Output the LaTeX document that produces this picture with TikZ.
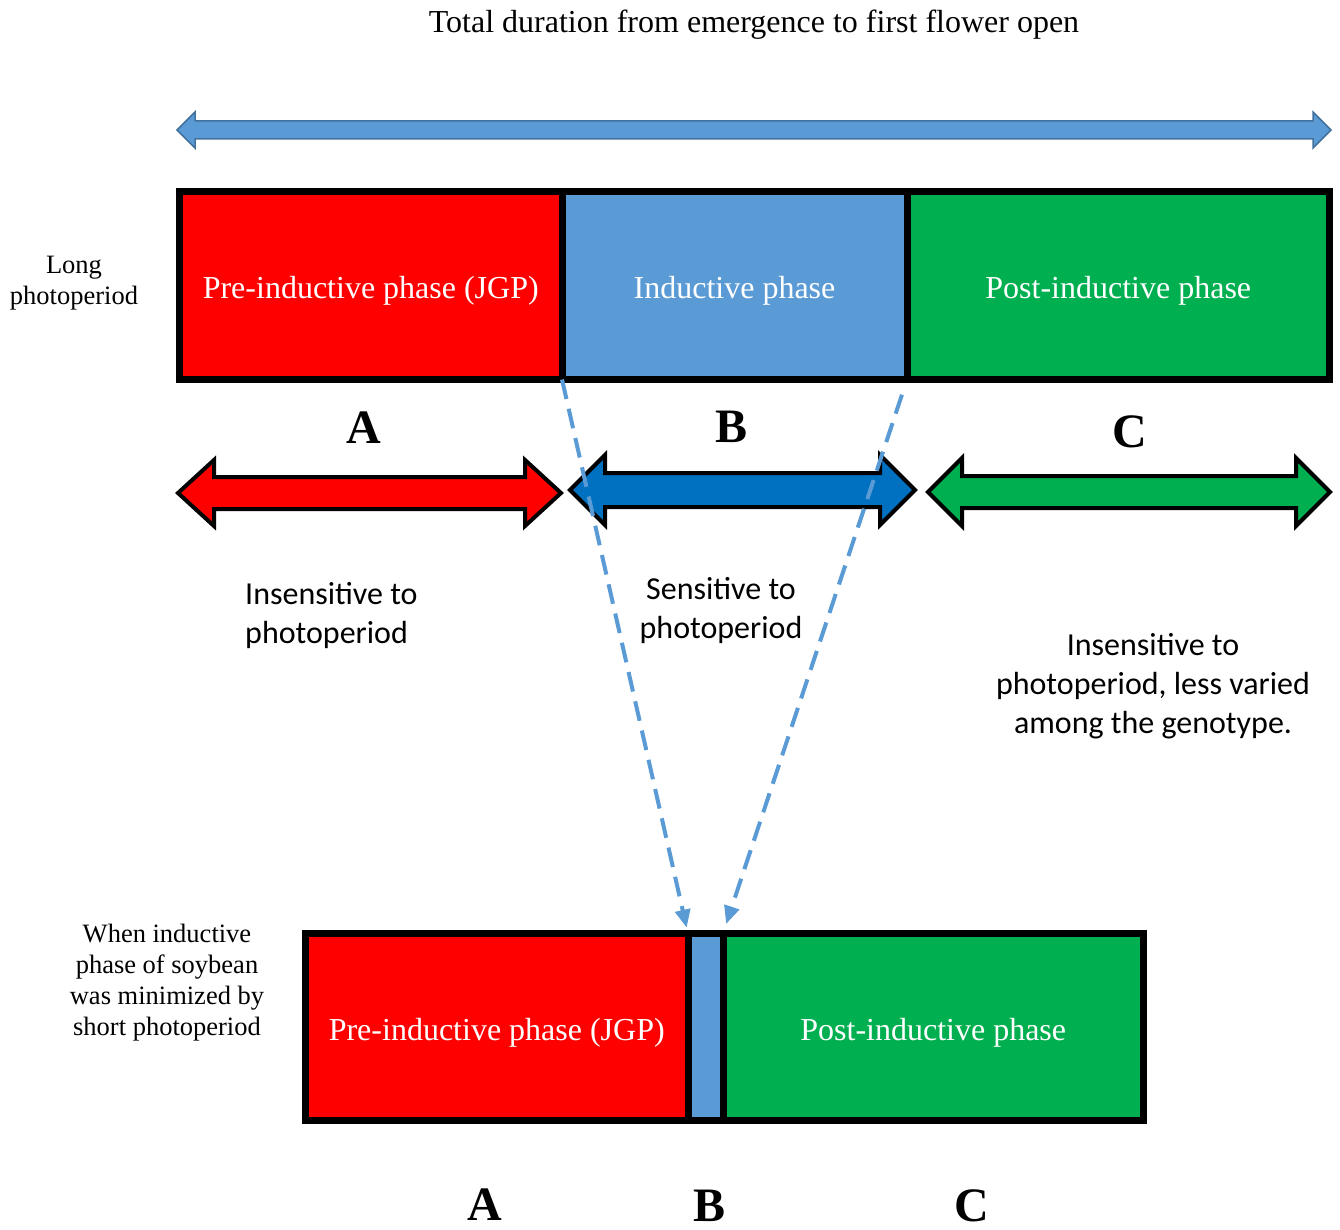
\documentclass[tikz,border=0pt]{standalone}
\usepackage{fontspec}
\setmainfont{Liberation Serif}
\newfontfamily\calibri{Carlito}
\usepackage{tikz}
\usetikzlibrary{arrows.meta,positioning}
\definecolor{phred}{HTML}{FF0000}
\definecolor{phblue}{HTML}{5B9BD5}
\definecolor{phgreen}{HTML}{00B050}
\definecolor{arblue}{HTML}{0070C0}
\definecolor{edgeblue}{HTML}{41719C}
% two-headed block arrow: style, left tip, right tip, y, head length, head half-width, shaft half-width
\newcommand{\dblarrow}[7][]{%
  \filldraw[#1] (#2,#4) -- ({#2+#5},{#4-#6}) -- ({#2+#5},{#4-#7}) -- ({#3-#5},{#4-#7})
    -- ({#3-#5},{#4-#6}) -- (#3,#4) -- ({#3-#5},{#4+#6}) -- ({#3-#5},{#4+#7})
    -- ({#2+#5},{#4+#7}) -- ({#2+#5},{#4+#6}) -- cycle;}

\begin{document}
\begin{tikzpicture}[x=1pt, y=-1pt,
  phase/.style={draw=black, line width=7pt, outer sep=0pt, inner sep=0pt, minimum height=188pt, text height=34pt, text depth=7pt, text=white, font=\fontsize{32}{36}\selectfont},
  letter/.style={inner sep=0pt, font=\fontsize{48}{52}\selectfont\bfseries},
  side/.style={inner sep=0pt, align=center, font=\fontsize{26.5}{31}\selectfont},
  note/.style={inner sep=0pt, font=\calibri\fontsize{32}{39}\selectfont},
  topar/.style={fill=phblue, draw=edgeblue, line width=1.5pt},
  phar/.style={draw=black, line width=4pt},
  dasharr/.style={-{Triangle[length=18pt,width=15pt]}, draw=phblue, line width=4pt, dash pattern=on 20pt off 10pt}
]
\useasboundingbox (0,0) rectangle (1340,1230);

\node[inner sep=0pt, font=\fontsize{32}{36}\selectfont] (title) at (754,25) {Total duration from emergence to first flower open};
\dblarrow[topar]{177}{1331}{130}{18}{18}{9}

% long photoperiod
\node[side] (longlbl) at (74,283) {Long\\photoperiod};
\node[phase, fill=phred, minimum width=382.5pt, anchor=north west] (preL) at (179.5,191.5) {Pre-inductive phase (JGP)};
\node[phase, fill=phblue, minimum width=345pt, right=0pt of preL] (indL) {Inductive phase};
\node[phase, fill=phgreen, minimum width=422.5pt, right=0pt of indL] (postL) {Post-inductive phase};

\node[letter] (aL) at (364,428) {A};
\node[letter] (bL) at (731,427) {B};
\node[letter] (cL) at (1130,432) {C};

\dblarrow[phar, fill=phred]{178}{561}{493}{36}{33}{16}
\dblarrow[phar, fill=arblue]{570}{915}{490}{35}{35}{17}
\dblarrow[phar, fill=phgreen]{928}{1330}{492}{34}{34}{16}

\node[note, align=left, anchor=west] (insA) at (245,616) {Insensitive to\\photoperiod};
\node[note, align=center] (sensB) at (721,611) {Sensitive to\\photoperiod};
\node[note, align=center] (insC) at (1153,686) {Insensitive to\\photoperiod, less varied\\among the genotype.};

% short photoperiod
\node[side] (shortlbl) at (167,983) {When inductive\\phase of soybean\\was minimized by\\short photoperiod};
\node[phase, fill=phred, minimum width=382.5pt, minimum height=187pt, anchor=north west] (preS) at (305.5,933.5) {Pre-inductive phase (JGP)};
\node[phase, fill=phblue, minimum width=35pt, minimum height=187pt, right=0pt of preS] (indS) {};
\node[phase, fill=phgreen, minimum width=420.5pt, minimum height=187pt, right=0pt of indS] (postS) {Post-inductive phase};

\node[letter] (aS) at (485,1205) {A};
\node[letter] (bS) at (709,1206) {B};
\node[letter] (cS) at (972,1206) {C};

\draw[dasharr, shorten >=6pt] (indL.south west) -- (indS.north west);
\draw[dasharr, shorten <=16pt, shorten >=10pt] (indL.south east) -- (indS.north east);
\end{tikzpicture}
\end{document}
